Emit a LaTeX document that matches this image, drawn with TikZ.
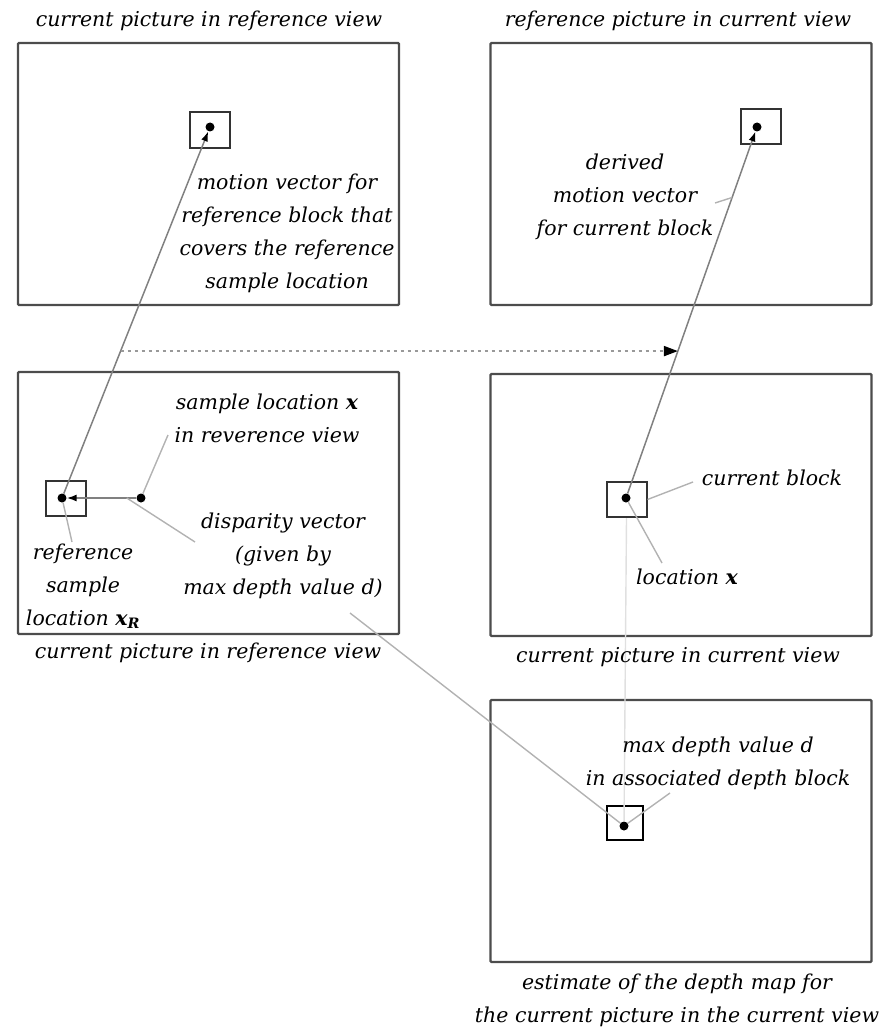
\documentclass[tikz,border=0pt]{standalone}
\usepackage{fontspec}
\setmainfont{DejaVu Serif}
\usetikzlibrary{arrows.meta,calc}

\begin{document}
\begin{tikzpicture}[x=1pt,y=-1pt,
    every node/.style={font=\fontsize{20.5}{33}\selectfont\itshape},
    picbox/.style={rectangle,draw=black!70,line width=2.4pt,rounded corners=1pt,minimum width=381pt,minimum height=262pt,inner sep=0pt},
    blk/.style={rectangle,draw=black!80,line width=2pt,minimum width=40pt,minimum height=35pt,inner sep=0pt},
    smp/.style={circle,fill=black,minimum size=9pt,inner sep=0pt},
    mv/.style={draw=black!50,line width=1.5pt,-{Latex[black,length=10pt,width=7pt]}},
    lead/.style={draw=black!30,line width=1.4pt},
    txt/.style={align=center,inner sep=0pt}
]
\useasboundingbox (0,0) rectangle (893,1030);

\node[picbox] (curref) at (208.5,174) {};
\node[picbox] (refcur) at (681,174) {};
\node[picbox] (currefb) at (208.5,503) {};
\node[picbox] (curcur) at (681,505) {};
\node[picbox] (depth) at (681,831) {};

\node[blk] (refblk) at (209.5,130) {};
\node[blk] (derblk) at (761,126.5) {};
\node[blk] (xrblk) at (66,498.5) {};
\node[blk] (curblk) at (626.5,499.5) {};
\node[blk,draw=black,line width=2.4pt,minimum width=36pt,minimum height=34pt] (depblk) at (625,823) {};

\node[smp] (p1) at (210,127) {};
\node[smp] (p2) at (757,127) {};
\node[smp] (xr) at (62,498) {};
\node[smp] (xs) at (141,498) {};
\node[smp] (xc) at (626,498) {};
\node[smp] (xd) at (624,826) {};

\draw[mv] (xr) -- (p1);
\draw[mv] (xc) -- (p2);
\draw[mv] (xs) -- (xr);

\coordinate (da) at ($(xr)!0.396!(p1)$);
\coordinate (db) at ($(xc)!0.396!(p2)$);
\draw[draw=black!40,line width=2pt,dash pattern=on 3pt off 4pt,-{Triangle[black,length=14pt,width=10pt]}] (da) -- (db);

\coordinate (mvtick) at ($(xc)!0.81!(p2)$);
\coordinate (dmvend) at (715,203);
\coordinate (slend) at (168,435);
\coordinate (dvtick) at ($(xs)!0.18!(xr)$);
\coordinate (dvend) at (195,542);
\coordinate (xrend) at (72,542);
\coordinate (cbend) at (693,482);
\coordinate (lxend) at (662,563);
\coordinate (mdend) at (670,793);
\coordinate (dvfar) at (350,613);

\draw[lead] (mvtick) -- (dmvend);
\draw[lead] (xs) -- (slend);
\draw[lead] (dvtick) -- (dvend);
\draw[lead] (xr) -- (xrend);
\draw[lead] (curblk.east) -- (cbend);
\draw[lead] (xc) -- (lxend);
\draw[lead] (xd) -- (mdend);
\draw[lead] (dvfar) -- (xd);
\draw[draw=black!12,line width=1.4pt] (curblk.south) -- (xd);

\node[txt] (t1) at (209,21) {current picture in reference view};
\node[txt] (t2) at (678,21) {reference picture in current view};
\node[txt] (mvlab) at (287,233) {motion vector for\\reference block that\\covers the reference\\sample location};
\node[txt] (dmvlab) at (625,197) {derived\\motion vector\\for current block};
\node[txt] (sllab) at (267,418) {sample location \textbf{x}\\in reverence view};
\node[txt] (dvlab) at (283,556) {disparity vector\\(given by\\max depth value d)};
\node[txt] (xrlab) at (83,586) {reference\\sample\\location \textbf{x\textsubscript{R}}};
\node[txt] (t3) at (208,653) {current picture in reference view};
\node[txt] (cblab) at (772,478) {current block};
\node[txt] (lxlab) at (687,577) {location \textbf{x}};
\node[txt] (t4) at (678,657) {current picture in current view};
\node[txt] (mdlab) at (718,763) {max depth value d\\in associated depth block};
\node[txt] (t5) at (677,1000) {estimate of the depth map for\\the current picture in the current view};
\end{tikzpicture}
\end{document}
